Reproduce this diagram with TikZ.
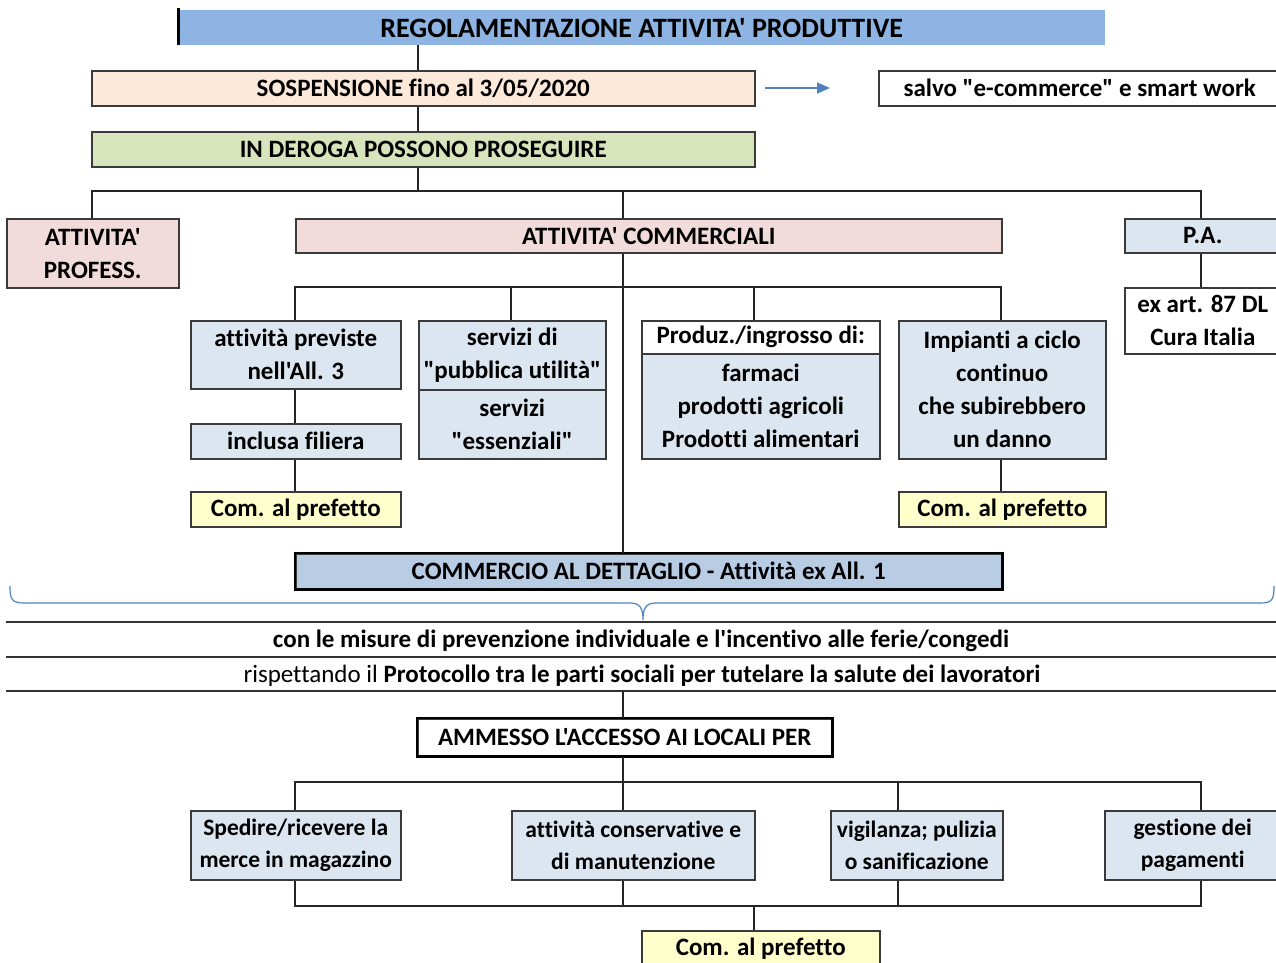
\documentclass[tikz,border=0pt]{standalone}
\usepackage{fontspec}
\setmainfont{Carlito}[Ligatures={NoCommon,TeXOff}]
\usetikzlibrary{arrows.meta,calc}
\definecolor{titleblue}{HTML}{8DB4E2}
\definecolor{peach}{HTML}{FDE9D9}
\definecolor{dgreen}{HTML}{D8E4BC}
\definecolor{pink}{HTML}{F2DCDB}
\definecolor{lblue}{HTML}{DCE6F1}
\definecolor{yell}{HTML}{FFFFCC}
\definecolor{dblue}{HTML}{B8CCE4}
\definecolor{bord}{HTML}{3A3A3A}
\definecolor{bracec}{HTML}{4F81BD}
\newcommand\mybox[7]{\node[box,fill=#6,minimum width={#4-#2},minimum height={#5-#3}] (#1) at (#2,#3) {#7};}
\begin{document}
\begin{tikzpicture}[x=1pt,y=-1pt,
  box/.style={draw=bord,line width=1.5pt,inner sep=0pt,align=center,anchor=north west},
  conn/.style={line width=1.5pt,draw=black!85},
  hl/.style={line width=2pt,draw=black!80},
  bracestyle/.style={line width=1.2pt,draw=bracec},
  small/.style={font=\fontsize{23.5}{32}\selectfont\bfseries},
  every node/.style={font=\fontsize{25}{33}\selectfont\bfseries}]
\useasboundingbox (0,0) rectangle (1276,962);
% coordinates for connector columns
\coordinate (c92) at (92,0);
\coordinate (c295) at (295,0);
\coordinate (c418) at (418,0);
\coordinate (c511) at (511,0);
\coordinate (c623) at (623,0);
\coordinate (c754) at (754,0);
\coordinate (c898) at (898,0);
\coordinate (c1001) at (1001,0);
\coordinate (c1201) at (1201,0);
\coordinate (bus1) at (0,191);
\coordinate (bus2) at (0,287);
\coordinate (bus3) at (0,782);
\coordinate (bus4) at (0,906);
% title
\node[fill=titleblue,minimum width=927,minimum height=35,anchor=north west,inner sep=0pt,font=\fontsize{28}{33}\selectfont\bfseries] (title) at (178,10) {REGOLAMENTAZIONE ATTIVITA' PRODUTTIVE};
\draw[line width=3pt] ([yshift=2pt]title.north west) -- (title.south west);
\mybox{sosp}{91}{70}{754}{105}{peach}{SOSPENSIONE fino al 3/05/2020}
\mybox{salvo}{878}{70}{1280}{105}{white}{salvo "e-commerce" e smart work}
\coordinate (a1) at (765,88);
\coordinate (a2) at (830,88);
\draw[line width=1.5pt,draw=bracec,-{Triangle[length=13pt,width=11pt]}] (a1) -- (a2);
\mybox{deroga}{91}{131}{754}{166}{dgreen}{IN DEROGA POSSONO PROSEGUIRE}
\mybox{prof}{6}{218}{178}{287}{pink}{ATTIVITA'\\PROFESS.}
\mybox{comm}{295}{218}{1001}{252}{pink}{ATTIVITA' COMMERCIALI}
\mybox{pa}{1124}{218}{1280}{252}{lblue}{P.A.}
\mybox{exart}{1124}{287}{1280}{353}{white}{ex art. 87 DL\\Cura Italia}
% second level
\mybox{prev}{190}{320}{400}{388}{lblue}{attività previste\\nell'All. 3}
\mybox{filiera}{190}{423}{400}{458}{lblue}{inclusa filiera}
\mybox{pref1}{190}{491}{400}{526}{yell}{Com. al prefetto}
\mybox{pubb}{418}{320}{605}{389}{lblue}{servizi di\\"pubblica utilità"}
\mybox{ess}{418}{389}{605}{458}{lblue}{servizi\\"essenziali"}
\mybox{prod}{641}{320}{879}{353}{white}{Produz./ingrosso di:}
\mybox{farm}{641}{353}{879}{458}{lblue}{farmaci\\prodotti agricoli\\Prodotti alimentari}
\mybox{imp}{898}{320}{1105}{458}{lblue}{Impianti a ciclo\\continuo\\che subirebbero\\un danno}
\mybox{pref2}{898}{491}{1105}{526}{yell}{Com. al prefetto}
\mybox{dett}{295}{553}{1001}{588}{dblue}{COMMERCIO AL DETTAGLIO - Attività ex All. 1}
\draw[black,line width=2.5pt] (dett.north west) rectangle (dett.south east);
% connectors top
\draw[conn] (title.south -| c418) -- (sosp.north -| c418);
\draw[conn] (sosp.south -| c418) -- (deroga.north -| c418);
\draw[conn] (deroga.south -| c418) -- (bus1 -| c418);
\draw[conn] (prof.north -| c92) -- (bus1 -| c92) -- (bus1 -| c1201) -- (pa.north -| c1201);
\draw[conn] (bus1 -| c623) -- (comm.north -| c623);
\draw[conn] (pa.south -| c1201) -- (exart.north -| c1201);
\draw[conn] (comm.south -| c623) -- (dett.north -| c623);
\draw[conn] (prev.north -| c295) -- (bus2 -| c295) -- (bus2 -| c1001) -- (imp.north -| c1001);
\draw[conn] (bus2 -| c511) -- (pubb.north -| c511);
\draw[conn] (bus2 -| c754) -- (prod.north -| c754);
\draw[conn] (prev.south -| c295) -- (filiera.north -| c295);
\draw[conn] (filiera.south -| c295) -- (pref1.north -| c295);
\draw[conn] (imp.south -| c1001) -- (pref2.north -| c1001);
% brace
\draw[bracestyle] (10,586) .. controls (10,600) and (12,603) .. (25,603) -- (630,603) .. controls (640,603) and (643,608) .. (643,620) .. controls (643,608) and (646,603) .. (656,603) -- (1260,603) .. controls (1272,603) and (1274,600) .. (1274,586);
% table lines
\coordinate (l1a) at (6,622); \coordinate (l1b) at (1280,622);
\coordinate (l2a) at (6,657); \coordinate (l2b) at (1280,657);
\coordinate (l3a) at (6,691); \coordinate (l3b) at (1280,691);
\draw[hl] (l1a) -- (l1b);
\draw[hl] (l2a) -- (l2b);
\draw[hl] (l3a) -- (l3b);
\node (misure) at (641,641) {con le misure di prevenzione individuale e l'incentivo alle ferie/congedi};
\node (protoc) at (642,676) {\mdseries rispettando il \bfseries Protocollo tra le parti sociali per tutelare la salute dei lavoratori};
% bottom
\mybox{amm}{417}{718}{831}{755}{white}{AMMESSO L'ACCESSO AI LOCALI PER}
\draw[black,line width=2.5pt] (amm.north west) rectangle (amm.south east);
\draw[conn] (l3a -| c623) -- (amm.north -| c623);
\node[box,small,fill=lblue,minimum width=210,minimum height=69] (sped) at (190,810) {Spedire/ricevere la\\merce in magazzino};
\node[box,small,fill=lblue,minimum width=243,minimum height=69] (cons) at (511,810) {attività conservative e\\di manutenzione};
\node[box,small,fill=lblue,minimum width=172,minimum height=69] (vig) at (830,810) {vigilanza; pulizia\\o sanificazione};
\node[box,small,fill=lblue,minimum width=176,minimum height=69] (gest) at (1104,810) {gestione dei\\pagamenti};
\mybox{pref3}{641}{930}{879}{966}{yell}{Com. al prefetto}
\draw[conn] (amm.south -| c623) -- (bus3 -| c623);
\draw[conn] (sped.north -| c295) -- (bus3 -| c295) -- (bus3 -| c1201) -- (gest.north -| c1201);
\draw[conn] (bus3 -| c898) -- (vig.north -| c898);
\draw[conn] (bus3 -| c623) -- (cons.north -| c623);
\draw[conn] (sped.south -| c295) -- (bus4 -| c295) -- (bus4 -| c1201) -- (gest.south -| c1201);
\draw[conn] (cons.south -| c623) -- (bus4 -| c623);
\draw[conn] (vig.south -| c898) -- (bus4 -| c898);
\draw[conn] (bus4 -| c754) -- (pref3.north -| c754);
\end{tikzpicture}
\end{document}
